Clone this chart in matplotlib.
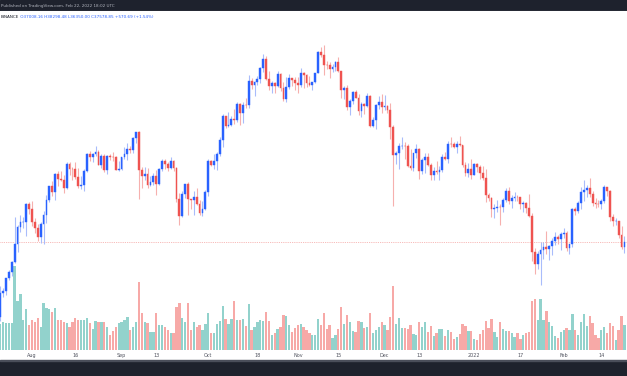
import matplotlib

matplotlib.use("Agg")
import matplotlib.pyplot as plt  # noqa: E402
import matplotlib.dates as mdates  # noqa: E402
import numpy as np  # noqa: E402
import pandas as pd  # noqa: E402
from matplotlib.patches import Rectangle  # noqa: E402

W, H = 627, 376
TICK_FONT = 3.5
HEAD_FONT = 3.0

# BTC/USDT daily, Binance, 2021-07-21 .. 2022-02-22
START = "2021-07-21"
FIRST_OPEN = 29796
closes = [
    32110, 32313, 33581, 34292, 35350, 37337, 39406, 39995, 40008, 42235, 41626,
    39974, 39201, 38152, 39747, 40869, 42836, 44614, 43792, 46285, 45593, 45551, 44428, 47833, 47109, 47015, 45936,
    44686, 44741, 46763, 49339, 48905, 49321, 49546, 47706, 48960, 46942, 49058, 48897, 48767, 46970, 47100,
    48810, 49246, 49999, 49915, 51756, 52663, 46863, 46048, 46395, 44850, 45144, 46063, 44963, 47092, 48176,
    47783, 47268, 48278, 47260, 42843, 40694, 43575, 44896, 42840, 42717, 43209, 42236, 41034, 41564, 43791,
    48165, 47657, 48233, 49246, 51493, 55339, 53797, 53964, 54967, 54691, 57487, 56005, 57367, 57348, 61672, 60875,
    61528, 62010, 64280, 66002, 62193, 60688, 61286, 60852, 63078, 60328, 58413, 60575, 62253, 61859, 61300,
    60911, 63219, 62896, 61395, 60937, 61470, 63273, 67525, 66947, 64882, 64774, 64122, 64380, 65519, 63606,
    60058, 60344, 56891, 58052, 59707, 58622, 56247, 57541, 57138, 58960, 53726, 54721, 57274, 57776, 56950,
    57184, 56480, 53601, 49152, 49397, 50441, 50588, 50471, 47545, 47140, 49389, 50053, 46702, 48343, 48864, 47632,
    46131, 46834, 46681, 46914, 48889, 48588, 50838, 50821, 50429, 50809, 50640, 47588, 46464, 47120, 46216,
    47722, 47286, 46446, 45833, 43425, 43082, 41566, 41679, 41864, 41822, 42735, 43949, 42592, 43099, 43177, 43113,
    42250, 42375, 41744, 40680, 36445, 35071, 36244, 36660, 36958, 36809, 37160, 37716, 38166, 37881, 38466,
    38690, 36896, 37311, 41574, 41382, 42380, 43840, 44118, 44338, 43565, 42407, 42244, 42197, 42586, 44575, 43961,
    40538, 40030, 40122, 38431, 37008, 37578.85,
]
highs = [
    32858, 32576, 33650, 34500, 35398, 40550, 39542, 40900, 40640, 42316, 42448,
    42599, 40459, 39780, 39969, 41350, 43392, 44700, 45310, 46454, 46700, 46743, 46218, 48144, 48070, 47372, 48053,
    47160, 46000, 47033, 49382, 49757, 49500, 50500, 49875, 49286, 49343, 49150, 49300, 49666, 48908, 48246,
    48888, 50344, 51000, 50558, 51900, 52780, 52920, 47381, 47400, 47250, 45987, 46460, 46876, 47250, 48500,
    48488, 48150, 48843, 48372, 47347, 43639, 44000, 44978, 45200, 42966, 43937, 44350, 42787, 42590, 44132,
    48495, 48336, 49228, 49536, 51886, 55750, 55332, 56100, 55489, 56561, 57839, 57680, 57777, 58532, 62933, 62378,
    61718, 62695, 64486, 67000, 66639, 63732, 61747, 61500, 63710, 63293, 61496, 62499, 62980, 62359, 62405,
    62437, 64270, 63500, 63086, 62595, 61560, 63286, 67789, 68530, 69000, 65600, 65460, 65000, 65550, 66401,
    63617, 60840, 60976, 58370, 59859, 60030, 59266, 57875, 57750, 59398, 59176, 55280, 57445, 58865, 59249,
    59053, 57400, 57600, 53904, 49700, 51000, 51936, 51200, 50797, 50125, 49485, 50797, 50189, 48700, 49500, 49436,
    48004, 47360, 48300, 47537, 49328, 49576, 51375, 51869, 51180, 51280, 52088, 50704, 48139, 47900, 48548,
    47954, 47990, 47570, 47505, 47070, 43748, 43145, 42300, 42786, 42248, 43100, 44322, 44500, 43448, 43800, 43475,
    43178, 42691, 42559, 43505, 41100, 36835, 36499, 37550, 37545, 38919, 37234, 38000, 38720, 38359, 38744,
    39265, 38855, 37387, 41772, 41913, 42656, 44500, 45492, 44799, 45821, 43920, 43000, 42760, 42876, 44769, 44581,
    44164, 40959, 40444, 40132, 39494, 38298.48,
]
lows = [
    29482, 31708, 31925, 33401, 33881, 35205, 36383, 38772, 39200, 38313, 41000,
    39422, 38690, 37642, 37508, 37332, 39853, 42450, 43261, 42779, 44671, 45341, 43770, 44238, 46179, 45500, 45660,
    44376, 44203, 43998, 46646, 48285, 48071, 49029, 47600, 47138, 46650, 46370, 48346, 48300, 46853, 46700,
    46853, 48584, 48316, 49400, 49500, 50969, 42843, 44412, 45514, 44400, 44722, 44742, 43370, 44750, 46700,
    47027, 46750, 47088, 46829, 42500, 39600, 40565, 43063, 40829, 41646, 40803, 42098, 40888, 40753, 41410,
    43283, 47430, 47088, 46891, 49022, 50382, 53357, 53617, 53661, 54080, 54415, 53879, 54167, 56818, 56850, 60150,
    58963, 60890, 61322, 63481, 62000, 60000, 59562, 59510, 60650, 59817, 58000, 57820, 60174, 60723, 59945,
    59405, 60624, 60382, 60677, 60721, 60050, 61322, 63273, 66382, 62822, 64100, 62333, 63360, 63576, 63400,
    58575, 58373, 56474, 55600, 57469, 58486, 55610, 55317, 55837, 56906, 53500, 53610, 53256, 56666, 55875,
    56458, 55852, 51680, 42000, 47727, 47100, 50039, 48600, 47320, 46852, 46751, 48638, 45672, 46290, 46547, 47511,
    45456, 45500, 46406, 45558, 46630, 48421, 47920, 50384, 50236, 49412, 50449, 47313, 46096, 45900, 45678,
    46208, 46654, 45696, 45516, 42500, 42645, 40610, 40501, 41200, 39650, 41268, 42450, 42311, 41725, 42578, 42692,
    41540, 41250, 41138, 40553, 35440, 34008, 34601, 32917, 35701, 36234, 35507, 36155, 37268, 37351, 36632,
    38000, 36586, 36250, 37026, 40843, 41116, 41645, 42666, 43117, 43188, 42000, 41748, 41870, 41570, 42427, 43310,
    40073, 39450, 39639, 38000, 36800, 36350.00,
]
# volume, thousand BTC
volumes = [
    52, 56, 54, 54, 54, 168, 98, 112, 60, 82, 50, 60, 56, 64, 46, 94, 84, 82, 76, 84, 60, 60, 56, 54, 46, 56, 64, 60,
    60, 60, 64, 54, 42, 58, 56, 56, 56, 46,
    30, 38, 46, 54, 56, 60, 66, 40, 46, 56, 136, 74, 56, 54, 36, 36, 74, 50, 50, 46, 40, 34, 34, 86, 94, 64, 56, 94,
    40, 56, 46, 50, 40, 52, 74, 34,
    34, 52, 58, 88, 62, 52, 62, 98, 60, 60, 62, 48, 92, 40, 46, 56, 60, 58, 76, 58, 30, 34, 42, 46, 70, 68, 50, 36,
    44, 50, 52, 46, 40, 34, 30, 30,
    62, 50, 74, 42, 50, 24, 30, 42, 86, 52, 70, 56, 38, 36, 58, 56, 44, 46, 74, 34, 40, 46, 56, 50, 40, 66, 128, 52,
    64, 44, 44, 42, 50, 32, 30, 56,
    46, 56, 36, 48, 28, 34, 42, 42, 28, 40, 36, 22, 26, 32, 52, 48, 38, 38, 22, 20, 32, 40, 58, 44, 62, 36, 26, 56,
    42, 38, 38, 34, 26, 34, 22, 30, 34,
    36, 98, 102, 60, 102, 60, 78, 56, 48, 28, 24, 36, 40, 44, 40, 72, 40, 30, 56, 72, 48, 68, 54, 30, 24, 40, 46, 34,
    54, 48, 20, 40, 68, 50,
]

tick_dates = ["2021-08-01", "2021-08-16", "2021-09-01", "2021-09-13", "2021-10-01", "2021-10-18", "2021-11-01",
              "2021-11-15", "2021-12-01", "2021-12-13", "2022-01-01", "2022-01-17", "2022-02-01", "2022-02-14"]
tick_labels = ["Aug", "16", "Sep", "13", "Oct", "18", "Nov", "15", "Dec", "13", "2022", "17", "Feb", "14"]

LAST_PRICE = 37578.85
HEADER = "Published on TradingView.com, Feb 22, 2022 18:02 UTC"
LEGEND_NAME = "BINANCE"
LEGEND_VALUES = " O37008.16 H38298.48 L36350.00 C37578.85 +570.69 (+1.54%)"

UP, DOWN = "#2962ff", "#ef5350"
UP_WICK, DOWN_WICK = "#a9bcfb", "#f6b0ae"
UP_VOL, DOWN_VOL = "#92d2cc", "#f7a9a7"
DARK = "#1e222d"


def px_box(x0, y0, x1, y1):
    """Pixel box (top-left origin) -> figure fraction [left, bottom, width, height]."""
    return [x0 / W, 1 - y1 / H, (x1 - x0) / W, (y1 - y0) / H]


closes = np.array(closes, dtype=float)
highs = np.array(highs, dtype=float)
lows = np.array(lows, dtype=float)
volumes = np.array(volumes, dtype=float)
dates = pd.date_range(START, periods=len(closes), freq="D")
assert len(highs) == len(lows) == len(volumes) == len(closes)
opens = np.r_[FIRST_OPEN, closes[:-1]]
up = closes >= opens
x = mdates.date2num(dates)

fig = plt.figure(figsize=(W / 100, H / 100), dpi=100)
fig.patch.set_facecolor("white")

ax_vol = fig.add_axes(px_box(0, 11, W, 350))
ax = fig.add_axes(px_box(0, 11, W, 350), sharex=ax_vol)
ax.patch.set_alpha(0)

# volume pane
ax_vol.bar(x, volumes, width=0.8, color=np.where(up, UP_VOL, DOWN_VOL), linewidth=0)
ax_vol.set_ylim(0, 678)
ax_vol.set_yticks([])
for s in ax_vol.spines.values():
    s.set_visible(False)
ax_vol.set_xticks(mdates.date2num(pd.to_datetime(tick_dates)))
ax_vol.set_xticklabels(tick_labels, fontsize=TICK_FONT, color="#50535e")
ax_vol.tick_params(axis="x", length=0, pad=2.2)

# candles
ax.axhline(LAST_PRICE, color="#f5a3a1", linewidth=0.6, linestyle=(0, (1, 1.2)), zorder=1)
ax.vlines(x, lows, highs, colors=np.where(up, UP_WICK, DOWN_WICK), linewidth=0.8, zorder=2)
body_col = np.where(up, UP, DOWN)
ax.bar(x, np.abs(closes - opens), bottom=np.minimum(opens, closes), width=0.62,
       color=body_col, edgecolor=body_col, linewidth=0.3, zorder=3)
ax.set_yscale("log")
ax.set_ylim(26940, 76580)
ax.set_xlim(x[0] - 0.07, x[0] + 216.9)
ax.axis("off")

# TradingView frame
fig.add_artist(Rectangle((0, 1 - 10.5 / H), 1, 10.5 / H, transform=fig.transFigure, color=DARK, zorder=0))
fig.add_artist(Rectangle((0, 1 - 11.5 / H), 1, 1 / H, transform=fig.transFigure, color="#4a4e5a", zorder=0))
fig.add_artist(Rectangle((0, 0), 1, 15 / H, transform=fig.transFigure, color=DARK, zorder=0))
fig.add_artist(Rectangle((0, 15 / H), 1, 1 / H, transform=fig.transFigure, color="#4a4e5a", zorder=0))

fig.text(1 / W, 1 - 5.5 / H, HEADER, color="#b2b5be", fontsize=HEAD_FONT, va="center", ha="left")
t1 = fig.text(1 / W, 1 - 17 / H, LEGEND_NAME, color="#131722", fontsize=HEAD_FONT, va="center", ha="left")
ax.annotate(LEGEND_VALUES, xy=(1, 0.5), xycoords=t1, va="center", ha="left",
            color=UP, fontsize=HEAD_FONT, annotation_clip=False)

fig.savefig("out.png", dpi=100)
